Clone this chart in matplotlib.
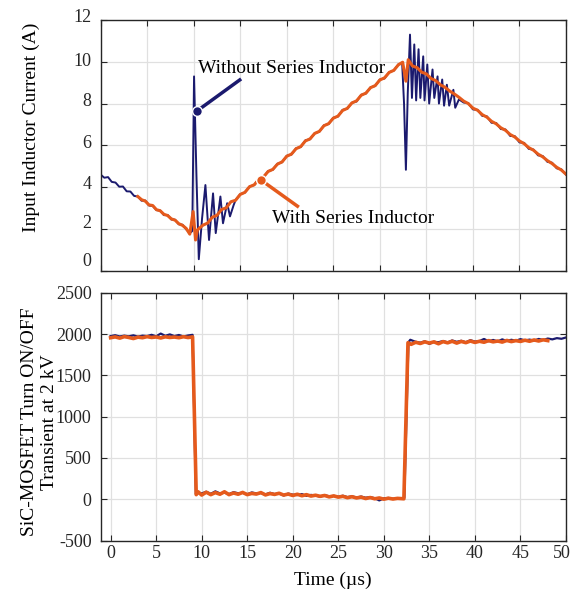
import matplotlib
matplotlib.use("Agg")
import matplotlib.pyplot as plt
from matplotlib.transforms import ScaledTranslation

plt.rcParams["font.family"] = ["Liberation Serif", "DejaVu Serif"]
plt.rcParams["axes.unicode_minus"] = False

NAVY = "#1b1a6e"
ORANGE = "#e55a1c"

# ---- top panel: input inductor current (A) ----
t_wo = [0, 0.4, 0.8, 1.2, 1.6, 2.0, 2.4, 2.8, 3.2, 3.6, 4.0, 4.4, 4.8, 5.2, 5.6,
        6.0, 6.4, 6.8, 7.2, 7.6, 8.0, 8.4, 8.8, 9.2, 9.6,
        9.85, 10.04, 10.3, 10.55, 10.9, 11.26, 11.65, 12.08, 12.37, 12.87, 13.15,
        13.6, 13.9, 14.3,
        14.5, 15.0, 15.5, 16.0, 16.5, 17.0, 17.5, 18.0, 18.5, 19.0, 19.5, 20.0,
        20.5, 21.0, 21.5, 22.0, 22.5, 23.0, 23.5, 24.0, 24.5, 25.0, 25.5, 26.0,
        26.5, 27.0, 27.5, 28.0, 28.5, 29.0, 29.5, 30.0, 30.5, 31.0, 31.5, 32.0, 32.4,
        32.6, 32.8, 33.0, 33.24, 33.45, 33.7, 33.9, 34.16, 34.35, 34.66, 34.8,
        35.1, 35.3, 35.66, 35.85, 36.2, 36.35, 36.7, 36.9, 37.2, 37.45, 37.9,
        38.1, 38.5,
        39.0, 39.5, 40.0, 40.5, 41.0, 41.5, 42.0, 42.5, 43.0, 43.5, 44.0, 44.5,
        45.0, 45.5, 46.0, 46.5, 47.0, 47.5, 48.0, 48.5, 49.0, 49.5, 50.0]
i_wo = [4.60, 4.45, 4.48, 4.25, 4.22, 4.02, 4.03, 3.80, 3.79, 3.58, 3.55, 3.35,
        3.36, 3.12, 3.10, 2.90, 2.88, 2.66, 2.67, 2.45, 2.44, 2.22, 2.20, 1.98, 1.80,
        1.90, 9.30, 4.50, 0.55, 2.50, 4.10, 1.47, 3.70, 1.80, 3.55, 2.27,
        3.23, 2.60, 3.15,
        3.38, 3.66, 3.74, 4.03, 4.10, 4.40, 4.47, 4.77, 4.83, 5.12, 5.19, 5.50,
        5.56, 5.86, 5.92, 6.24, 6.29, 6.58, 6.65, 6.96, 7.02, 7.32, 7.38, 7.70,
        7.75, 8.04, 8.10, 8.42, 8.48, 8.78, 8.84, 9.15, 9.20, 9.50, 9.58, 9.88, 9.90,
        8.00, 4.83, 8.50, 11.30, 8.27, 10.83, 8.15, 10.60, 8.27, 10.26, 8.15,
        9.87, 8.00, 9.63, 8.27, 9.30, 8.00, 9.15, 7.90, 8.90, 7.90, 8.66,
        7.80, 8.20,
        8.05, 8.02, 7.72, 7.70, 7.41, 7.39, 7.08, 7.07, 6.78, 6.76, 6.45, 6.44,
        6.14, 6.12, 5.83, 5.80, 5.52, 5.49, 5.21, 5.17, 4.90, 4.85, 4.60]

t_w = [4.0, 4.4, 4.8, 5.2, 5.6, 6.0, 6.4, 6.8, 7.2, 7.6, 8.0, 8.4, 8.8, 9.2, 9.58,
       9.94, 10.2, 10.4, 10.65,
       11.0, 11.5, 12.0, 12.5, 13.0, 13.5, 14.0, 14.5, 15.0, 15.5, 16.0, 16.5,
       17.0, 17.5, 18.0, 18.5, 19.0, 19.5, 20.0, 20.5, 21.0, 21.5, 22.0, 22.5,
       23.0, 23.5, 24.0, 24.5, 25.0, 25.5, 26.0, 26.5, 27.0, 27.5, 28.0, 28.5,
       29.0, 29.5, 30.0, 30.5, 31.0, 31.5, 32.0, 32.45, 32.8, 33.05,
       33.5, 34.0, 34.5, 35.0, 35.5, 36.0, 36.5, 37.0, 37.5, 38.0, 38.5, 39.0,
       39.5, 40.0, 40.5, 41.0, 41.5, 42.0, 42.5, 43.0, 43.5, 44.0, 44.5, 45.0,
       45.5, 46.0, 46.5, 47.0, 47.5, 48.0, 48.5, 49.0, 49.5, 50.0]
i_w = [3.55, 3.40, 3.33, 3.15, 3.12, 2.92, 2.87, 2.70, 2.64, 2.48, 2.42, 2.25,
       2.17, 2.02, 1.75,
       2.83, 1.47, 1.95, 2.05,
       2.18, 2.28, 2.56, 2.65, 2.93, 3.01, 3.30, 3.37, 3.65, 3.75, 4.02, 4.11,
       4.37, 4.49, 4.75, 4.85, 5.10, 5.21, 5.48, 5.58, 5.84, 5.94, 6.21, 6.31,
       6.57, 6.67, 6.94, 7.04, 7.30, 7.40, 7.67, 7.77, 8.03, 8.13, 8.40, 8.50,
       8.76, 8.86, 9.13, 9.23, 9.49, 9.59, 9.86, 9.98, 9.07, 10.10,
       9.80, 9.72, 9.50, 9.42, 9.20, 9.10, 8.90, 8.78, 8.60, 8.46, 8.30, 8.12,
       8.00, 7.78, 7.68, 7.47, 7.35, 7.15, 7.03, 6.84, 6.72, 6.52, 6.40, 6.21,
       6.08, 5.89, 5.77, 5.58, 5.45, 5.27, 5.13, 4.95, 4.82, 4.62]

# ---- bottom panel: SiC-MOSFET voltage (V) ----
tv_wo = [0, 0.5, 1.0, 1.5, 2.0, 2.5, 3.0, 3.5, 4.0, 4.5, 5.0, 5.5, 6.0, 6.5, 7.0,
         7.5, 8.0, 8.5, 9.0, 9.36,
         9.6, 10.0, 10.5, 11.0, 11.5, 12.0, 12.5, 13.0, 13.5, 14.0, 14.5, 15.0,
         15.5, 16.0, 16.5, 17.0, 17.5, 18.0, 18.5, 19.0, 19.5, 20.0, 20.5, 21.0,
         21.5, 22.0, 22.5, 23.0, 23.5, 24.0, 24.5, 25.0, 25.5, 26.0, 26.5, 27.0,
         27.5, 28.0, 28.5, 29.0, 29.5, 30.0, 30.5, 31.0, 31.5, 32.0, 32.25,
         32.7, 32.9,
         33.5, 34.0, 34.5, 35.0, 35.5, 36.0, 36.5, 37.0, 37.5, 38.0, 38.5, 39.0,
         39.5, 40.0, 40.5, 41.0, 41.5, 42.0, 42.5, 43.0, 43.5, 44.0, 44.5, 45.0,
         45.5, 46.0, 46.5, 47.0, 47.5, 48.0, 48.5, 49.0, 49.5, 50.0]
v_wo = [1975, 1985, 1970, 1980, 1972, 1984, 1968, 1980, 1975, 1990, 1972, 2005,
        1978, 1995, 1975, 1988, 1970, 1982, 1990, 60,
        75, 70, 90, 65, 95, 70, 80, 62, 85, 72, 78, 60,
        82, 70, 75, 58, 78, 62, 70, 45, 68, 55, 50, 62,
        40, 52, 45, 30, 48, 35, 40, 30, 42, 25, 35, 20,
        32, 18, 25, 12, -15, 10, 15, 5, 12, 8, 20,
        1900, 1930,
        1905, 1895, 1912, 1880, 1905, 1900, 1915, 1898, 1922, 1905, 1918, 1900,
        1925, 1908, 1915, 1940, 1912, 1928, 1910, 1935, 1915, 1930, 1918, 1938,
        1922, 1932, 1920, 1940, 1928, 1945, 1935, 1950, 1942, 1958]

tv_w = [0, 0.5, 1.0, 1.5, 2.0, 2.5, 3.0, 3.5, 4.0, 4.5, 5.0, 5.5, 6.0, 6.5, 7.0,
        7.5, 8.0, 8.5, 9.0, 9.4,
        9.6, 10.0, 10.5, 11.0, 11.5, 12.0, 12.5, 13.0, 13.5, 14.0, 14.5, 15.0,
        15.5, 16.0, 16.5, 17.0, 17.5, 18.0, 18.5, 19.0, 19.5, 20.0, 20.5, 21.0,
        21.5, 22.0, 22.5, 23.0, 23.5, 24.0, 24.5, 25.0, 25.5, 26.0, 26.5, 27.0,
        27.5, 28.0, 28.5, 29.0, 29.5, 30.0, 30.5, 31.0, 31.5, 32.2,
        32.65, 33.0,
        33.5, 34.0, 34.5, 35.0, 35.5, 36.0, 36.5, 37.0, 37.5, 38.0, 38.5, 39.0,
        39.5, 40.0, 40.5, 41.0, 41.5, 42.0, 42.5, 43.0, 43.5, 44.0, 44.5, 45.0,
        45.5, 46.0, 46.5, 47.0, 47.5, 48.0]
v_w = [1955, 1965, 1950, 1968, 1958, 1945, 1962, 1955, 1968, 1958, 1964, 1952,
       1966, 1958, 1963, 1955, 1967, 1957, 1965, 55,
       90, 50, 85, 55, 80, 60, 90, 55, 75, 60, 82, 55,
       70, 62, 80, 52, 68, 58, 72, 50, 62, 45, 60, 42,
       55, 38, 48, 35, 45, 28, 40, 25, 35, 18, 30, 15,
       25, 8, 20, 5, 15, 0, 12, 2, 10, 5,
       1895, 1875,
       1900, 1885, 1905, 1890, 1905, 1882, 1908, 1893, 1912, 1890, 1910, 1895,
       1915, 1898, 1912, 1900, 1920, 1905, 1915, 1902, 1922, 1908, 1920, 1910,
       1925, 1912, 1928, 1915, 1930, 1920]

W, H = 573, 592
fig = plt.figure(figsize=(W / 100, H / 100), dpi=100)
ax1 = fig.add_axes([100.6 / W, 1 - 270.7 / H, 465.4 / W, 250.7 / H])
ax2 = fig.add_axes([100.6 / W, 1 - 540.5 / H, 465.4 / W, 247.8 / H])

for ax in (ax1, ax2):
    ax.grid(True, color="#e0e0e0", lw=0.9)
    ax.set_axisbelow(True)
    ax.tick_params(direction="in", length=4, top=True, right=True,
                   labelsize=13, colors="#262626", width=0.8)
    ax.tick_params(axis="y", pad=6.5)
    for s in ax.spines.values():
        s.set_color("#262626")
        s.set_linewidth(1.0)

# top
ax1.plot(t_wo, i_wo, color=NAVY, lw=1.4)
ax1.plot(t_w, i_w, color=ORANGE, lw=2.2)
ax1.set_xlim(0, 50)
ax1.set_ylim(0, 12)
ax1.set_xticks(range(0, 51, 5))
ax1.set_xticklabels([])
ax1.set_yticks(range(0, 13, 2))
ax1.set_ylabel("Input Inductor Current (A)", fontsize=14)
ax1.yaxis.set_label_coords(-0.130, 0.571)
# tick labels in the top panel sit a little above their ticks
for lab, dy in zip(ax1.get_yticklabels(), [11, 7, 5, 4, 4, 2, 4]):
    lab.set_transform(lab.get_transform() + ScaledTranslation(0, dy / 100, fig.dpi_scale_trans))

# annotations
ax1.plot([10.4, 15.1], [7.66, 9.18], color=NAVY, lw=2.5, solid_capstyle="butt")
ax1.plot(10.4, 7.66, "o", color=NAVY, mec="white", mew=1, ms=7)
ax1.text(10.5, 9.7, "Without Series Inductor", fontsize=14, va="center")
ax1.plot([17.2, 21.3], [4.35, 3.04], color=ORANGE, lw=2.5, solid_capstyle="butt")
ax1.plot(17.2, 4.35, "o", color=ORANGE, mec="white", mew=1, ms=7)
ax1.text(18.4, 2.48, "With Series Inductor", fontsize=14, va="center")

# bottom
ax2.plot(tv_wo, v_wo, color=NAVY, lw=1.6)
ax2.plot(tv_w, v_w, color=ORANGE, lw=2.6)
ax2.set_xlim(-1.1, 50)
ax2.set_ylim(-500, 2500)
ax2.set_xticks(range(0, 51, 5))
ax2.set_yticks(range(-500, 2501, 500))
ax2.set_xlabel("Time (µs)", fontsize=14, labelpad=7)
ax2.set_ylabel("SiC-MOSFET Turn ON/OFF\nTransient at 2 kV", fontsize=14,
               linespacing=1.25)
ax2.yaxis.set_label_coords(-0.092, 0.478)
last = ax2.get_xticklabels()[-1]
last.set_transform(last.get_transform() + ScaledTranslation(-4 / 100, 0, fig.dpi_scale_trans))

fig.savefig("out.png", dpi=100)
